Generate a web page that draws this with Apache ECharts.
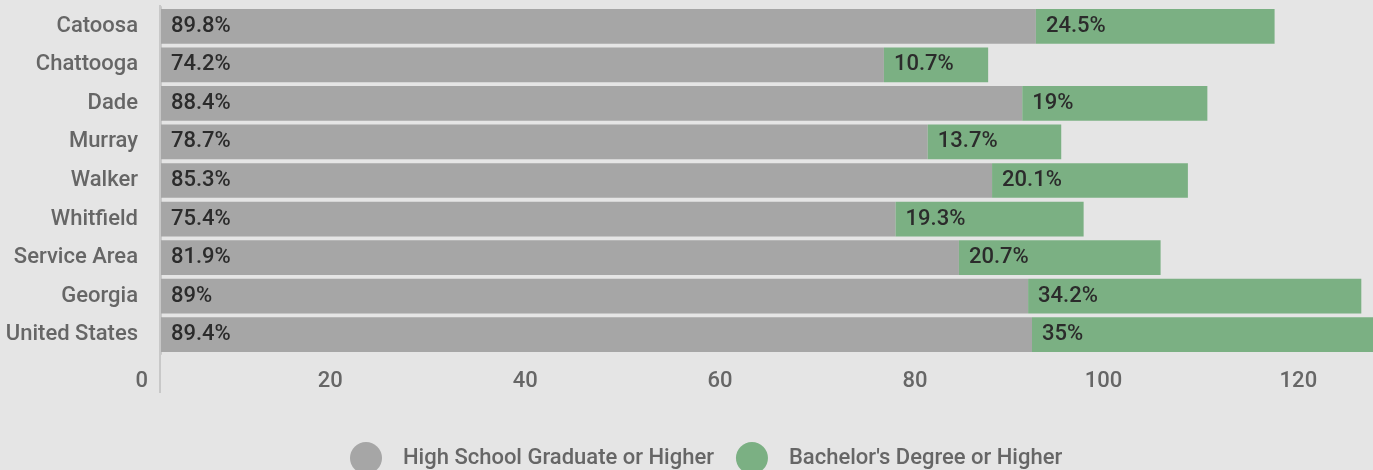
<!DOCTYPE html>
<html>
<head>
<meta charset="utf-8">
<title>Educational Attainment</title>
<script src="https://cdn.jsdelivr.net/npm/echarts@6/dist/echarts.min.js"></script>
<style>
  html, body { margin: 0; padding: 0; background: #e5e5e5; }
  #chart { width: 1373px; height: 470px; }
</style>
</head>
<body>
<div id="chart"></div>
<script>
// Areas compared
const categories = ['Catoosa', 'Chattooga', 'Dade', 'Murray', 'Walker', 'Whitfield', 'Service Area', 'Georgia', 'United States'];
// Percent of population 25+ by attainment level
const highSchool = [89.8, 74.2, 88.4, 78.7, 85.3, 75.4, 81.9, 89, 89.4];
const bachelors = [24.5, 10.7, 19, 13.7, 20.1, 19.3, 20.7, 34.2, 35];
const seriesNames = ['High School Graduate or Higher', "Bachelor's Degree or Higher"];
const xTicks = [0, 20, 40, 60, 80, 100, 120];

const FONT = 'Roboto, "Noto Sans", sans-serif';
const WEIGHT = 500;
const SIZE = 22;
const chart = echarts.init(document.getElementById('chart'));

const barLabel = {
  show: true,
  position: 'insideLeft',
  distance: 10,
  formatter: p => p.value + '%',
  color: '#2b2b2b',
  fontFamily: FONT,
  fontWeight: WEIGHT,
  fontSize: SIZE
};

chart.setOption({
  backgroundColor: '#e5e5e5',
  animation: false,
  grid: { left: 161, right: 0, top: 7, bottom: 116 },
  xAxis: {
    type: 'value',
    min: 0,
    max: 124.4,
    interval: 20,
    splitLine: { show: false },
    axisLine: { show: false },
    axisTick: { show: false },
    axisLabel: {
      showMaxLabel: false,
      formatter: v => (xTicks.includes(v) ? String(v) : ''),
      align: 'right',
      padding: [0, 13, 0, 0],
      margin: 16,
      color: '#666',
      fontFamily: FONT,
      fontWeight: WEIGHT,
      fontSize: SIZE
    }
  },
  yAxis: {
    type: 'category',
    data: categories,
    inverse: true,
    axisLine: { show: true, lineStyle: { color: '#c8c8c8', width: 2 } },
    axisTick: { show: false },
    axisLabel: { margin: 23, color: '#666', fontFamily: FONT, fontWeight: WEIGHT, fontSize: SIZE }
  },
  legend: {
    left: 350,
    top: 442,
    padding: 0,
    icon: 'circle',
    itemWidth: 32,
    itemHeight: 32,
    itemGap: 22,
    textStyle: { color: '#666', fontFamily: FONT, fontWeight: WEIGHT, fontSize: SIZE, padding: [0, 0, 0, 16] },
    data: seriesNames
  },
  series: [
    {
      name: seriesNames[0],
      type: 'bar',
      stack: 'total',
      data: highSchool,
      barCategoryGap: '10%',
      itemStyle: { color: '#a6a6a6' },
      label: barLabel
    },
    {
      name: seriesNames[1],
      type: 'bar',
      stack: 'total',
      data: bachelors,
      barCategoryGap: '10%',
      itemStyle: { color: '#7bb083' },
      label: barLabel
    }
  ]
});

// The zero baseline runs a little past the plot area, above and below.
const x0 = chart.convertToPixel({ xAxisIndex: 0 }, 0);
const gridRect = chart.getModel().getComponent('grid').coordinateSystem.getRect();
chart.setOption({
  graphic: [{
    type: 'line',
    silent: true,
    z: 0,
    shape: { x1: x0 - 1, y1: gridRect.y - 2, x2: x0 - 1, y2: gridRect.y + gridRect.height + 39 },
    style: { stroke: '#c8c8c8', lineWidth: 2 }
  }]
});
</script>
</body>
</html>
